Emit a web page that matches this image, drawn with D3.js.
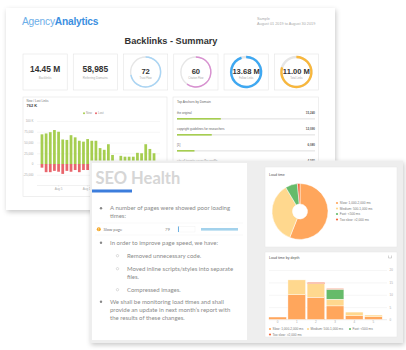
<!DOCTYPE html>
<html lang="en">
<head>
<meta charset="UTF-8">
<title>Backlinks summary and SEO health</title>
<script src="https://cdn.jsdelivr.net/npm/d3@7"></script>
<style>
  body { margin: 0; background: #fff; }
  svg { display: block; font-family: "Liberation Sans", Arial, sans-serif; }
  .doc { font-family: Lato, "Open Sans", sans-serif; }
</style>
</head>
<body>
<script>
// ---- data ----
var kpiLabels = ['Backlinks', 'Referring Domains', 'Trust Flow', 'Citation Flow', 'Follow Links', 'Total Links'];
var kpiValues = ['14.45 M', '58,985', '72', '60', '13.68 M', '11.00 M'];
var kpiRing = [null, null, 0.72, 0.60, 0.95, 0.80];
var kpiColors = [null, null, '#a9d5f5', '#d98fd1', '#3ea8f2', '#f8b73c'];

var days = d3.range(1, 29);
var newLinks = [69000, 71000, 74000, 79000, 75000, 57000, 56000, 67000, 62000, 54000,
                52000, 58000, 54000, 54000, 37000, 33000, 46000, 21000, 6000, 19000,
                17000, 17000, 17000, 26000, 25000, 46000, 35000, 25000];
var lostLinks = [-8500, -19000, -19000, -16000, -18000, -23000, -16000, -18000, -14000, -19000,
                 -14000, -14000, -15000, -13000, -12000, -12000, -10000, -9000, -8000, -9000,
                 -8000, -8000, -9000, -10000, -9000, -11000, -10000, -9000];
var linkTicks = [-25000, 0, 25000, 50000, 75000, 100000];
var dateTicks = [5, 12];

var anchorNames = ['the original', 'copyright guidelines for researchers', '[1]', 'city of toronto councillor profile'];
var anchorValues = [15240, 12090, 6080, 4980];

var loadTypes = ['Slow: 1,000-2,000 ms', 'Medium: 500-1,000 ms', 'Fast: <500 ms', 'Too slow: >2,000 ms'];
var loadShares = [56, 35.5, 7, 1.5];
var loadColors = ['#ffa65c', '#ffd88e', '#66bb6a', '#f4683e'];

var depths = [0, 1, 2, 3, 4, 5];
var depthSlow = [1, 10, 9, 5.5, 1.5, 1.1];
var depthMedium = [0, 6, 5.5, 2.7, 1.5, 0.7];
var depthFast = [0, 0, 0, 4, 0, 0];
var depthTooSlow = [0, 0, 0.5, 0.3, 0, 0];
var depthTicks = [0, 5, 10, 15, 20];

var notes = [
  {type: 'bullet', lines: ['A number of pages were showed poor loading', 'times:']},
  {type: 'bullet', lines: ['In order to improve page speed, we have:']},
  {type: 'sub', lines: ['Removed unnecessary code.']},
  {type: 'sub', lines: ['Moved inline scripts/styles into separate', 'files.']},
  {type: 'sub', lines: ['Compressed images.']},
  {type: 'bullet', lines: ['We shall be monitoring load times and shall', 'provide an update in next month\u2019s report with', 'the results of these changes.']}
];
var noteY = [210, 244.5, 257.5, 270.5, 291.5, 303.5];

var svg = d3.select('body').append('svg').attr('width', 406).attr('height', 350);

var shadow = svg.append('defs').append('filter').attr('id', 'shadow')
  .attr('x', '-10%').attr('y', '-10%').attr('width', '125%').attr('height', '130%');
shadow.append('feDropShadow').attr('dx', 1).attr('dy', 2).attr('stdDeviation', 2.5)
  .attr('flood-color', '#000').attr('flood-opacity', 0.22);

// small helper: axis text styling after d3.axis has set its own defaults
function tidy(g, size) {
  g.attr('font-size', size).attr('font-family', null);
  g.selectAll('text').attr('fill', '#aaa');
}

// ================= back report =================
var back = svg.append('g');
back.append('rect').attr('x', 6).attr('y', 8).attr('width', 329).attr('height', 202)
  .attr('fill', '#fff').attr('filter', 'url(#shadow)');

var logo = back.append('text').attr('x', 22).attr('y', 24.5).attr('font-size', 10.2).attr('letter-spacing', -0.2);
logo.append('tspan').attr('fill', '#6caee8').text('Agency');
logo.append('tspan').attr('fill', '#3b8fdf').attr('font-weight', 'bold').text('Analytics');

back.append('text').attr('x', 257).attr('y', 20).attr('font-size', 3.8).attr('fill', '#aaa').text('Sample');
back.append('text').attr('x', 257).attr('y', 24.5).attr('font-size', 3.8).attr('fill', '#aaa')
  .text('August 01 2019 to August 30 2019');

back.append('text').attr('x', 171).attr('y', 44).attr('text-anchor', 'middle')
  .attr('font-size', 9.2).attr('font-weight', 'bold').attr('fill', '#333').text('Backlinks - Summary');

// kpi cards
var kpiX = d3.scaleBand().domain(d3.range(6)).range([23, 318.5]).paddingInner(0.12);
var cards = back.selectAll('.kpi').data(kpiValues).join('g').attr('class', 'kpi')
  .attr('transform', function (d, i) { return 'translate(' + kpiX(i) + ',54)'; });
cards.append('rect').attr('width', kpiX.bandwidth()).attr('height', 36)
  .attr('fill', '#fff').attr('stroke', '#e4e4e4').attr('stroke-width', 0.6);
cards.each(function (d, i) {
  var g = d3.select(this);
  var cx = kpiX.bandwidth() / 2;
  if (kpiRing[i] !== null) {
    var w = i >= 4 ? 1.2 : 0.7;
    var arc = d3.arc().innerRadius(15 - w).outerRadius(15 + w).startAngle(0);
    g.append('path').attr('transform', 'translate(' + cx + ',18)')
      .attr('d', arc({endAngle: 2 * Math.PI})).attr('fill', '#e6e6e6');
    g.append('path').attr('transform', 'translate(' + cx + ',18)')
      .attr('d', arc({endAngle: 2 * Math.PI * kpiRing[i]})).attr('fill', kpiColors[i]);
    g.append('text').attr('x', cx).attr('y', 20.2).attr('text-anchor', 'middle')
      .attr('font-size', 7.6).attr('font-weight', 'bold').attr('fill', '#333').text(d);
    g.append('text').attr('x', cx).attr('y', 24.8).attr('text-anchor', 'middle')
      .attr('font-size', 2.6).attr('fill', '#aaa').text(kpiLabels[i]);
  } else {
    g.append('text').attr('x', cx).attr('y', 17.8).attr('text-anchor', 'middle')
      .attr('font-size', 8.4).attr('font-weight', 'bold').attr('fill', '#333').text(d);
    g.append('text').attr('x', cx).attr('y', 25).attr('text-anchor', 'middle')
      .attr('font-size', 3).attr('fill', '#aaa').text(kpiLabels[i]);
  }
});

// new / lost links chart
back.append('rect').attr('x', 23).attr('y', 97).attr('width', 144).attr('height', 99.5)
  .attr('fill', '#fff').attr('stroke', '#e4e4e4').attr('stroke-width', 0.6);
back.append('text').attr('x', 26.5).attr('y', 101.5).attr('font-size', 3).attr('fill', '#777').text('New / Lost Links');
back.append('text').attr('x', 26.5).attr('y', 106.8).attr('font-size', 4).attr('font-weight', 'bold').attr('fill', '#444').text('762 K');

var legendItems = [{name: 'New', color: '#a6ce50', x: 84}, {name: 'Lost', color: '#e9656c', x: 96}];
legendItems.forEach(function (l) {
  back.append('circle').attr('cx', l.x).attr('cy', 113.3).attr('r', 1).attr('fill', l.color);
  back.append('text').attr('x', l.x + 2).attr('y', 114.4).attr('font-size', 3).attr('fill', '#999').text(l.name);
});

var x = d3.scaleBand().domain(days).range([40.6, 155.4]).paddingInner(0.34);
var y = d3.scaleLinear().domain([-50000, 100000]).range([185.5, 121]);

back.append('g').attr('transform', 'translate(37,0)')
  .call(d3.axisLeft(y).tickValues(linkTicks).tickSize(-123).tickPadding(3.5)
    .tickFormat(function (d) { return d === 100000 ? '100 K' : d3.format(',')(d).replace('\u2212', '-'); }))
  .call(function (g) {
    tidy(g, 3);
    g.select('.domain').remove();
    g.selectAll('line').attr('stroke', '#ededed').attr('stroke-width', 0.5);
  });

back.append('g').attr('transform', 'translate(0,185.5)')
  .call(d3.axisBottom(x).tickValues(dateTicks).tickSize(1).tickPadding(1.2)
    .tickFormat(function (d) { return 'Aug ' + d; }))
  .call(function (g) {
    tidy(g, 3);
    g.select('.domain').attr('d', 'M37,0H160').attr('stroke', '#e2e2e2').attr('stroke-width', 0.5);
    g.selectAll('line').attr('stroke', '#ccc').attr('stroke-width', 0.4);
  });

back.selectAll('.new').data(newLinks).join('rect').attr('class', 'new')
  .attr('x', function (d, i) { return x(days[i]); })
  .attr('y', function (d) { return y(d); })
  .attr('width', x.bandwidth())
  .attr('height', function (d) { return y(0) - y(d); })
  .attr('fill', '#a6ce50');
back.selectAll('.lost').data(lostLinks).join('rect').attr('class', 'lost')
  .attr('x', function (d, i) { return x(days[i]); })
  .attr('y', y(0))
  .attr('width', x.bandwidth())
  .attr('height', function (d) { return y(d) - y(0); })
  .attr('fill', '#e9656c');

// top anchors
back.append('rect').attr('x', 173).attr('y', 97).attr('width', 145.5).attr('height', 99.5)
  .attr('fill', '#fff').attr('stroke', '#e4e4e4').attr('stroke-width', 0.6);
back.append('text').attr('x', 177).attr('y', 103).attr('font-size', 3.2).attr('fill', '#666').text('Top Anchors by Domain');
var ax = d3.scaleLinear().domain([0, 48000]).range([177, 315]);
var rowY = d3.scalePoint().domain(anchorNames).range([114, 162]);
var rows = back.selectAll('.anchor').data(anchorNames).join('g').attr('class', 'anchor')
  .attr('transform', function (d) { return 'translate(0,' + rowY(d) + ')'; });
rows.append('text').attr('x', 177).attr('font-size', 3).attr('fill', '#666').text(function (d) { return d; });
rows.append('text').attr('x', 315).attr('text-anchor', 'end').attr('font-size', 3).attr('font-weight', 'bold')
  .attr('fill', '#555').text(function (d, i) { return d3.format(',')(anchorValues[i]); });
rows.append('rect').attr('x', ax(0)).attr('y', 4).attr('width', ax.range()[1] - ax(0)).attr('height', 1.6).attr('fill', '#ebebeb');
rows.append('rect').attr('x', ax(0)).attr('y', 4).attr('width', function (d, i) { return ax(anchorValues[i]) - ax(0); })
  .attr('height', 1.6).attr('fill', '#a6ce50');

// ================= front report =================
var front = svg.append('g');
front.append('rect').attr('x', 90).attr('y', 160.5).attr('width', 313).attr('height', 182.5)
  .attr('fill', '#eeeeee').attr('filter', 'url(#shadow)');
front.append('rect').attr('x', 92).attr('y', 163).attr('width', 155).attr('height', 177).attr('fill', '#fff');

var doc = front.append('g').attr('class', 'doc');
doc.append('text').attr('x', 95.5).attr('y', 184).attr('font-size', 16.5).attr('font-weight', 'bold')
  .attr('fill', '#d6d6d6').text('SEO Health');
doc.append('rect').attr('x', 92).attr('y', 189.5).attr('width', 40).attr('height', 3).attr('fill', '#3c7ddc');

notes.forEach(function (n, i) {
  var tx = n.type === 'bullet' ? 110 : 127;
  if (n.type === 'bullet') {
    doc.append('circle').attr('cx', 101).attr('cy', noteY[i] - 1.8).attr('r', 1.2).attr('fill', '#888');
  } else {
    doc.append('circle').attr('cx', 117.5).attr('cy', noteY[i] - 1.8).attr('r', 1.2)
      .attr('fill', 'none').attr('stroke', '#bbb').attr('stroke-width', 0.5);
  }
  n.lines.forEach(function (line, k) {
    doc.append('text').attr('x', tx).attr('y', noteY[i] + k * 8.3).attr('font-size', 6)
      .attr('fill', '#8a8a8a').text(line);
  });
});

// slow page row
doc.append('line').attr('x1', 95).attr('x2', 243).attr('y1', 223).attr('y2', 223).attr('stroke', '#f0f0f0').attr('stroke-width', 0.5);
doc.append('line').attr('x1', 95).attr('x2', 243).attr('y1', 235).attr('y2', 235).attr('stroke', '#f0f0f0').attr('stroke-width', 0.5);
doc.append('circle').attr('cx', 98.8).attr('cy', 229.2).attr('r', 2).attr('fill', '#f5a623');
doc.append('text').attr('x', 98.8).attr('y', 230.6).attr('text-anchor', 'middle').attr('font-size', 3.5)
  .attr('font-weight', 'bold').attr('fill', '#fff').text('!');
doc.append('text').attr('x', 103.5).attr('y', 230.8).attr('font-size', 4.2).attr('fill', '#777').text('Slow page');
doc.append('text').attr('x', 165).attr('y', 230.8).attr('font-size', 4.2).attr('fill', '#777').text('79');
doc.append('rect').attr('x', 178).attr('y', 226.5).attr('width', 17).attr('height', 5.5)
  .attr('fill', 'none').attr('stroke', '#eee').attr('stroke-width', 0.4);
doc.append('rect').attr('x', 178).attr('y', 226.5).attr('width', 0.8).attr('height', 5.5).attr('fill', '#4a9fdc');
doc.append('rect').attr('x', 201).attr('y', 228).attr('width', 37).attr('height', 2.6).attr('fill', '#a3d2ec');

// load time donut card
front.append('rect').attr('x', 265).attr('y', 167).attr('width', 132).attr('height', 80)
  .attr('fill', '#fff').attr('stroke', '#e6e6e6').attr('stroke-width', 0.5);
front.append('text').attr('x', 269).attr('y', 175.5).attr('font-size', 3.6).attr('fill', '#555').text('Load time');

var pie = d3.pie().sort(null).value(function (d) { return d; });
var arc = d3.arc().innerRadius(7.5).outerRadius(28);
front.append('g').attr('transform', 'translate(300,211.5)')
  .selectAll('path').data(pie(loadShares)).join('path')
  .attr('d', arc).attr('fill', function (d, i) { return loadColors[i]; })
  .attr('stroke', '#fff').attr('stroke-width', 0.5);

var legY = d3.scalePoint().domain(loadTypes).range([203, 219.5]);
loadTypes.forEach(function (t, i) {
  front.append('circle').attr('cx', 337).attr('cy', legY(t)).attr('r', 1.1).attr('fill', loadColors[i]);
  front.append('text').attr('x', 339.8).attr('y', legY(t) + 1.1).attr('font-size', 3.2).attr('fill', '#777').text(t);
});

// load time by depth card
front.append('rect').attr('x', 265).attr('y', 252).attr('width', 132).attr('height', 85)
  .attr('fill', '#fff').attr('stroke', '#e6e6e6').attr('stroke-width', 0.5);
front.append('text').attr('x', 269).attr('y', 258.5).attr('font-size', 3.6).attr('fill', '#555').text('Load time by depth');
front.append('path').attr('d', 'M388.5,255.5v2.5h3v-2.5').attr('fill', 'none').attr('stroke', '#aaa').attr('stroke-width', 0.5);

var dx = d3.scaleBand().domain(depths).range([268, 383]).paddingInner(0.08).paddingOuter(0.04);
var dy = d3.scaleLinear().domain([0, 20]).range([319.5, 270]);

front.append('g').attr('transform', 'translate(387,0)')
  .call(d3.axisRight(dy).tickValues(depthTicks).tickSize(-118).tickPadding(2.5))
  .call(function (g) {
    tidy(g, 3);
    g.select('.domain').remove();
    g.selectAll('line').attr('stroke', '#ededed').attr('stroke-width', 0.5);
  });
front.append('g').attr('transform', 'translate(0,319.5)')
  .call(d3.axisBottom(dx).tickSize(0).tickPadding(1.6))
  .call(function (g) {
    tidy(g, 3);
    g.select('.domain').attr('d', 'M269,0H387').attr('stroke', '#e2e2e2').attr('stroke-width', 0.5);
  });

var depthRows = depths.map(function (d, i) {
  return {depth: d, slow: depthSlow[i], medium: depthMedium[i], fast: depthFast[i], tooSlow: depthTooSlow[i]};
});
var keys = ['slow', 'medium', 'fast', 'tooSlow'];
var stack = d3.stack().keys(keys)(depthRows);
front.append('g').selectAll('g').data(stack).join('g')
  .attr('fill', function (d, i) { return loadColors[i]; })
  .selectAll('rect').data(function (d) { return d; }).join('rect')
  .attr('x', function (d) { return dx(d.data.depth); })
  .attr('y', function (d) { return dy(d[1]); })
  .attr('width', dx.bandwidth())
  .attr('height', function (d) { return dy(d[0]) - dy(d[1]); })
  .attr('stroke', '#fff').attr('stroke-width', 0.4);

var depthLegend = [{x: 270, y: 329}, {x: 308, y: 329}, {x: 350, y: 329}, {x: 270, y: 334.5}];
loadTypes.forEach(function (t, i) {
  front.append('circle').attr('cx', depthLegend[i].x).attr('cy', depthLegend[i].y).attr('r', 1.1).attr('fill', loadColors[i]);
  front.append('text').attr('x', depthLegend[i].x + 2.5).attr('y', depthLegend[i].y + 1.1)
    .attr('font-size', 3.2).attr('fill', '#777').text(t);
});
</script>
</body>
</html>
